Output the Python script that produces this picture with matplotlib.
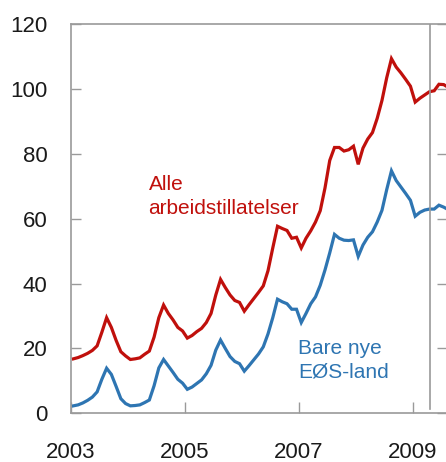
import numpy as np
import matplotlib
matplotlib.use("Agg")
import matplotlib.pyplot as plt

# ─── Data (monthly, Jan 2003 onwards) ────────────────────────────────
START_YEAR = 2003
alle = [
    16.8, 17.2, 17.8, 18.5, 19.4, 20.8, 25.0, 29.5, 26.5, 22.5, 19.0, 17.7,
    16.6, 16.8, 17.1, 18.2, 19.2, 23.5, 29.5, 33.4, 30.8, 28.8, 26.5, 25.4,
    23.2, 24.0, 25.2, 26.2, 28.0, 30.8, 36.5, 41.3, 38.8, 36.5, 34.8, 34.2,
    31.5, 33.5, 35.4, 37.3, 39.3, 44.0, 51.0, 57.7, 57.0, 56.4, 54.0, 54.3,
    51.0, 54.0, 56.3, 59.0, 62.5, 69.5, 78.0, 82.0, 82.0, 80.9, 81.3, 82.4,
    76.8, 81.8, 84.6, 86.6, 91.0, 96.5, 103.5, 109.4, 106.8, 105.0, 103.0, 100.9,
    96.0, 97.2, 98.2, 99.2, 99.5, 101.5, 101.4, 100.5,
]
eos = [
    2.3, 2.6, 3.2, 4.0, 5.0, 6.6, 10.5, 13.9, 12.0, 8.3, 4.5, 3.0,
    2.3, 2.4, 2.6, 3.3, 4.1, 8.5, 14.0, 16.6, 14.6, 12.6, 10.5, 9.3,
    7.4, 8.1, 9.2, 10.3, 12.2, 14.8, 19.5, 22.6, 20.0, 17.5, 16.0, 15.3,
    13.0, 14.7, 16.5, 18.3, 20.5, 24.5, 29.5, 35.2, 34.4, 33.8, 32.1, 32.1,
    28.0, 30.8, 33.8, 35.9, 39.5, 44.2, 49.5, 55.2, 54.0, 53.4, 53.3, 53.5,
    48.4, 51.9, 54.3, 56.0, 59.0, 62.6, 69.0, 74.8, 71.8, 69.8, 67.8, 65.7,
    60.8, 62.0, 62.7, 63.0, 63.0, 64.2, 63.6, 62.8,
]
x_ticks = [2003, 2005, 2007, 2009]
y_ticks = [0, 20, 40, 60, 80, 100, 120]
marker_year = 2009.31

RED = "#c0100c"
BLUE = "#2e75b2"
GREY = "#9a9a9a"

plt.rcParams.update({
    "font.family": ["Liberation Sans", "DejaVu Sans"],
    "font.size": 15,
})

months = (np.arange(len(alle)) + 0.5) / 12 + START_YEAR

fig = plt.figure(figsize=(4.46, 4.62), dpi=100)
ax = fig.add_axes([71 / 446, (462 - 413.3) / 462, 376 / 446, 389 / 462])

ax.plot(months, alle, color=RED, lw=2.3, solid_joinstyle="miter")
ax.plot(months, eos, color=BLUE, lw=2.3, solid_joinstyle="miter")
ax.axvline(marker_year, ymin=0.012, ymax=1, color=GREY, lw=1.2)

ax.set_xlim(2003, 2009.6)
ax.set_ylim(0, 120)
ax.set_xticks(x_ticks)
ax.set_yticks(y_ticks)
ax.tick_params(axis="both", direction="in", color=GREY, width=1, labelsize=16,
               labelcolor="#1a1a1a")
ax.tick_params(axis="x", length=8, pad=21)
ax.tick_params(axis="y", length=7, pad=17, right=True)
for s in ax.spines.values():
    s.set_color(GREY)
    s.set_linewidth(1.2)

# multi-line labels: y is the baseline of the last line
ax.text(2004.36, 61.6, "Alle\narbeidstillatelser", color=RED, fontsize=15,
        ha="left", va="baseline", linespacing=1.32)
ax.text(2006.99, 11.1, "Bare nye\nEØS-land", color=BLUE, fontsize=15,
        ha="left", va="baseline", linespacing=1.32)

fig.savefig("out.png", dpi=100)
